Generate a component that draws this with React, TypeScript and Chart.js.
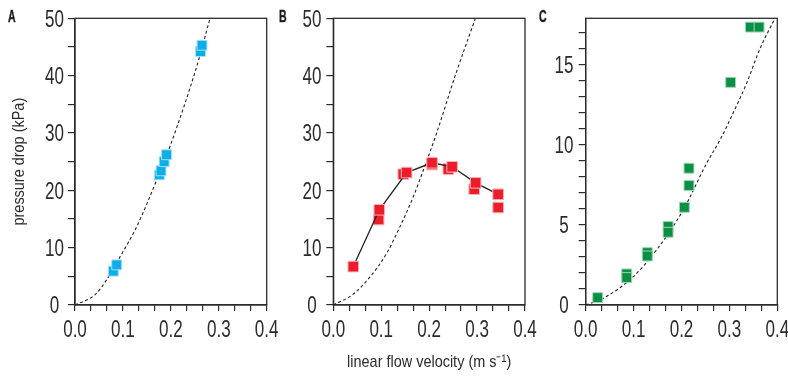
import React, { useEffect, useRef } from 'react';
import { Chart, registerables } from 'chart.js';
Chart.register(...registerables);

const FONT = '"Liberation Sans", Arial, sans-serif';
const INK = '#2b2b2b';
const TICK_SIZE = 23;
const TICK_SX = 0.74;
const TITLE_SIZE = 17;
const TITLE_SX = 0.85;

// ---- data ----
const xTickLabels = ['0.0', '0.1', '0.2', '0.3', '0.4'];
const xMinorPerMajor = 3;
const yTicksAB = [0, 5, 10, 15, 20, 25, 30, 35, 40, 45, 50];
const yLabelsAB = [0, 10, 20, 30, 40, 50];
const yTicksC = [0, 1, 2, 3, 4, 5, 6, 7, 8, 9, 10, 11, 12, 13, 14, 15, 16, 17];
const yLabelsC = [0, 5, 10, 15];

// Panel A (blue)
const aX = [0.080, 0.087, 0.176, 0.1795, 0.186, 0.191, 0.262, 0.265];
const aY = [5.9, 7.0, 22.7, 23.4, 25.0, 26.2, 44.2, 45.3];
const aCurveX = [0, 0.042, 0.066, 0.094, 0.129, 0.1705, 0.198, 0.254, 0.2817];
const aCurveY = [0, 1.8, 4.4, 8.4, 13.7, 21.8, 27.6, 41.6, 50];

// Panel B (red)
const bLineX = [0.0417, 0.096, 0.153, 0.206, 0.248, 0.297, 0.344];
const bLineY = [6.7, 16.6, 23.1, 24.8, 24.1, 21.3, 19.3];
const bOtherX = [0.0946, 0.146, 0.206, 0.240, 0.294, 0.344];
const bOtherY = [14.9, 22.8, 24.5, 23.7, 20.2, 17.0];
const bCurveX = [0, 0.0417, 0.0766, 0.1114, 0.139, 0.167, 0.1878, 0.2157, 0.2544, 0.2965];
const bCurveY = [0, 1.9, 4.9, 9.0, 13.65, 18.9, 23.5, 30, 40, 50];

// Panel C (green)
const cX = [0.025, 0.0856, 0.0856, 0.1286, 0.1286, 0.172, 0.172, 0.206, 0.2156, 0.2156, 0.3026, 0.344, 0.362];
const cY = [0.46, 1.94, 1.71, 3.27, 3.06, 4.9, 4.54, 6.1, 7.46, 8.54, 13.9, 17.35, 17.35];
const cCurveX = [0, 0.0367, 0.0994, 0.148, 0.2037, 0.2525, 0.2803, 0.308, 0.336, 0.3638, 0.395];
const cCurveY = [0, 0.42, 1.77, 3.44, 5.94, 8.85, 10.3, 12.0, 13.85, 16.0, 17.9];

const yTitleText = 'pressure drop (kPa)';
const xTitleText = 'linear flow velocity (m s\u207B\u00B9)';

const pts = (xs: number[], ys: number[]) => xs.map((x, i) => ({ x, y: ys[i] }));

const xTickValues: number[] = [];
for (let i = 0; i < (xTickLabels.length - 1) * xMinorPerMajor + 1; i++) {
  xTickValues.push((i / xMinorPerMajor) * 0.1);
}

function drawText(
  ctx: CanvasRenderingContext2D,
  text: string,
  x: number,
  y: number,
  size: number,
  sx: number,
  align: CanvasTextAlign,
  baseline: CanvasTextBaseline,
  rot = 0
) {
  ctx.save();
  ctx.translate(x, y);
  if (rot) ctx.rotate(rot);
  ctx.scale(sx, 1);
  ctx.font = `${size}px ${FONT}`;
  ctx.fillStyle = INK;
  ctx.textAlign = align;
  ctx.textBaseline = baseline;
  ctx.fillText(text, 0, 0);
  ctx.restore();
}

function curveDs(xs: number[], ys: number[]) {
  return {
    data: pts(xs, ys),
    showLine: true,
    borderColor: '#222',
    borderWidth: 1.1,
    borderDash: [3, 2.5],
    pointRadius: 0,
    cubicInterpolationMode: 'monotone',
    fill: false,
  };
}

function pointDs(xs: number[], ys: number[], fill: string, edge: string, r: number, line = false) {
  return {
    data: pts(xs, ys),
    showLine: line,
    borderColor: line ? '#222' : edge,
    borderWidth: line ? 1.3 : 1,
    backgroundColor: fill,
    pointBackgroundColor: fill,
    pointBorderColor: edge,
    pointBorderWidth: 1,
    pointStyle: 'rect',
    pointRadius: r,
  };
}

interface Panel {
  left: number;
  width: number;
  yWidth: number;
  padRight: number;
  yMax: number;
  yTicks: number[];
  yLabels: number[];
  yLabelX: number; // page x of label centre
  datasets: any[];
  yTitle?: string;
  xTitle?: string;
}

function makeConfig(p: Panel): any {
  const labelsPlugin = {
    id: 'labelsAndFrame',
    afterDraw(chart: any) {
      const { ctx, chartArea: a } = chart;
      const xs = chart.scales.x;
      const ys = chart.scales.y;
      ctx.save();
      ctx.strokeStyle = INK;
      ctx.lineWidth = 1.3;
      ctx.strokeRect(a.left, a.top, a.right - a.left, a.bottom - a.top);
      ctx.restore();
      xTickLabels.forEach((t, i) => {
        const px = xs.getPixelForValue(i * 0.1);
        drawText(ctx, t, px, 337, TICK_SIZE, TICK_SX, 'center', 'alphabetic');
      });
      p.yLabels.forEach((v) => {
        const py = ys.getPixelForValue(v);
        drawText(ctx, String(v), p.yLabelX - p.left, py + 8.2, TICK_SIZE, TICK_SX, 'center', 'alphabetic');
      });
      if (p.yTitle) {
        drawText(ctx, p.yTitle, 19 - p.left, (a.top + a.bottom) / 2, TITLE_SIZE, TITLE_SX, 'center', 'middle', -Math.PI / 2);
      }
      if (p.xTitle) {
        drawText(ctx, p.xTitle, (a.left + a.right) / 2, 367, TITLE_SIZE, TITLE_SX, 'center', 'alphabetic');
      }
    },
  };
  return {
    type: 'scatter',
    data: { datasets: p.datasets },
    options: {
      animation: false,
      responsive: false,
      maintainAspectRatio: false,
      events: [],
      layout: { padding: { left: 0, right: p.padRight, top: 18.3, bottom: 0 } },
      plugins: { legend: { display: false }, tooltip: { enabled: false } },
      scales: {
        x: {
          type: 'linear',
          min: 0,
          max: 0.4,
          afterBuildTicks: (s: any) => {
            s.ticks = xTickValues.map((v) => ({ value: v }));
          },
          afterFit: (s: any) => {
            s.height = 72;
            s.paddingLeft = 0;
            s.paddingRight = 0;
          },
          ticks: { display: false },
          grid: { drawOnChartArea: false, drawTicks: true, tickLength: 6, color: INK, lineWidth: 1.2 },
          border: { display: true, color: INK, width: 1.3 },
        },
        y: {
          type: 'linear',
          min: 0,
          max: p.yMax,
          afterBuildTicks: (s: any) => {
            s.ticks = p.yTicks.map((v) => ({ value: v }));
          },
          afterFit: (s: any) => {
            s.width = p.yWidth;
            s.paddingTop = 0;
            s.paddingBottom = 0;
          },
          ticks: { display: false },
          grid: { drawOnChartArea: false, drawTicks: true, tickLength: 7, color: INK, lineWidth: 1.2 },
          border: { display: true, color: INK, width: 1.3 },
        },
      },
    },
    plugins: [labelsPlugin],
  };
}

const BLUE = '#0aaee8';
const BLUE_EDGE = '#a8e0f7';
const RED = '#ec1c2a';
const RED_EDGE = '#f6b3b6';
const GREEN = '#0a8f45';
const GREEN_EDGE = '#9fd6b3';

const panels: Panel[] = [
  {
    left: 0,
    width: 300,
    yWidth: 75,
    padRight: 33.3,
    yMax: 50,
    yTicks: yTicksAB,
    yLabels: yLabelsAB,
    yLabelX: 54.5,
    yTitle: yTitleText,
    datasets: [pointDs(aX, aY, BLUE, BLUE_EDGE, 7), curveDs(aCurveX, aCurveY)],
  },
  {
    left: 280,
    width: 280,
    yWidth: 53.3,
    padRight: 35,
    yMax: 50,
    yTicks: yTicksAB,
    yLabels: yLabelsAB,
    yLabelX: 312,
    xTitle: xTitleText,
    datasets: [
      pointDs(bLineX, bLineY, RED, RED_EDGE, 7.5, true),
      pointDs(bOtherX, bOtherY, RED, RED_EDGE, 7.5),
      curveDs(bCurveX, bCurveY),
    ],
  },
  {
    left: 520,
    width: 268,
    yWidth: 65.7,
    padRight: 10.7,
    yMax: 17.9,
    yTicks: yTicksC,
    yLabels: yLabelsC,
    yLabelX: 564,
    datasets: [pointDs(cX, cY, GREEN, GREEN_EDGE, 7), curveDs(cCurveX, cCurveY)],
  },
];

const panelLetters = [
  { text: 'A', left: 8 },
  { text: 'B', left: 279 },
  { text: 'C', left: 539 },
];

function PanelChart({ p }: { p: Panel }) {
  const ref = useRef<HTMLCanvasElement>(null);
  useEffect(() => {
    if (!ref.current) return;
    const chart = new Chart(ref.current, makeConfig(p));
    return () => chart.destroy();
  }, []);
  return (
    <canvas
      ref={ref}
      width={p.width}
      height={377}
      style={{ position: 'absolute', left: p.left, top: 0, width: p.width, height: 377 }}
    />
  );
}

export default function App() {
  useEffect(() => {
    document.body.style.margin = '0';
  }, []);
  return (
    <div style={{ position: 'relative', width: 788, height: 377, background: '#fff', overflow: 'hidden' }}>
      {panels.map((p, i) => (
        <PanelChart key={i} p={p} />
      ))}
      {panelLetters.map((l) => (
        <div
          key={l.text}
          style={{
            position: 'absolute',
            left: l.left,
            top: 8,
            fontFamily: FONT,
            fontWeight: 900,
            fontSize: 17,
            lineHeight: '17px',
            color: '#1a1a1a',
            transform: 'scaleX(0.62)',
            transformOrigin: 'left top',
            WebkitTextStroke: '0.4px #1a1a1a',
          }}
        >
          {l.text}
        </div>
      ))}
    </div>
  );
}
